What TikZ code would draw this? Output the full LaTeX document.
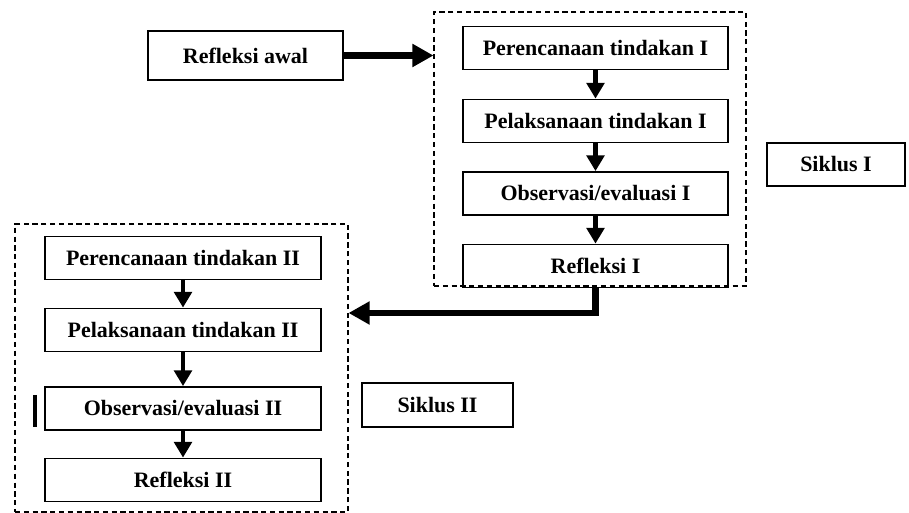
\documentclass[tikz,border=0pt]{standalone}
\usepackage{fontspec}
\setmainfont{Liberation Serif}
\usetikzlibrary{arrows.meta}
\begin{document}
\begin{tikzpicture}[
  box/.style={draw=black,line width=1pt,align=center,
    font=\bfseries\fontsize{12.5}{14}\selectfont,inner sep=2pt},
  stage/.style={box,minimum width=5.3cm,minimum height=0.86cm},
  stagetwo/.style={box,minimum width=5.52cm,minimum height=0.86cm},
  cycle/.style={draw=black,line width=0.6pt,dash pattern=on 3pt off 2pt},
  flow/.style={-{Triangle[length=9pt,width=10pt]},line width=2.6pt},
  bigflow/.style={-{Triangle[length=12pt,width=12.5pt]},line width=3.6pt}]
\useasboundingbox (0,0) rectangle (18.18,-10.26);
\node[box,minimum width=3.9cm,minimum height=0.98cm] (awal) at (4.91,-1.11)
  {Refleksi awal};
\node[cycle,minimum width=6.24cm,minimum height=5.48cm] (cycA) at (11.8,-2.98) {};
\node[stage] (planA) at (11.91,-0.96) {Perencanaan tindakan I};
\node[stage] (actA) at (11.91,-2.42) {Pelaksanaan tindakan I};
\node[stage] (obsA) at (11.91,-3.87) {Observasi/evaluasi I};
\node[stage] (refA) at (11.91,-5.32) {Refleksi I};
\node[box,minimum width=2.76cm,minimum height=0.86cm] (labA) at (16.72,-3.29)
  {Siklus I};
\node[cycle,minimum width=6.66cm,minimum height=5.76cm] (cycB) at (3.63,-7.36) {};
\node[stagetwo] (planB) at (3.66,-5.16) {Perencanaan tindakan II};
\node[stagetwo] (actB) at (3.66,-6.6) {Pelaksanaan tindakan II};
\node[stagetwo] (obsB) at (3.66,-8.17) {Observasi/evaluasi II};
\node[stagetwo] (refB) at (3.66,-9.6) {Refleksi II};
\node[box,minimum width=3.02cm,minimum height=0.88cm] (labB) at (8.75,-8.1)
  {Siklus II};
\coordinate (turn) at (11.91,-6.26);
\draw[bigflow] (awal.east) -- (awal.east -| cycA.west);
\draw[flow] (planA) -- (actA);
\draw[flow] (actA) -- (obsA);
\draw[flow] (obsA) -- (refA);
\draw[bigflow] (refA.south) -- (turn) -- (turn -| cycB.east);
\draw[flow] (planB) -- (actB);
\draw[flow] (actB) -- (obsB);
\draw[flow] (obsB) -- (refB);
\draw[line width=1.8pt] (0.7,-7.9) -- (0.7,-8.54);
\end{tikzpicture}
\end{document}
